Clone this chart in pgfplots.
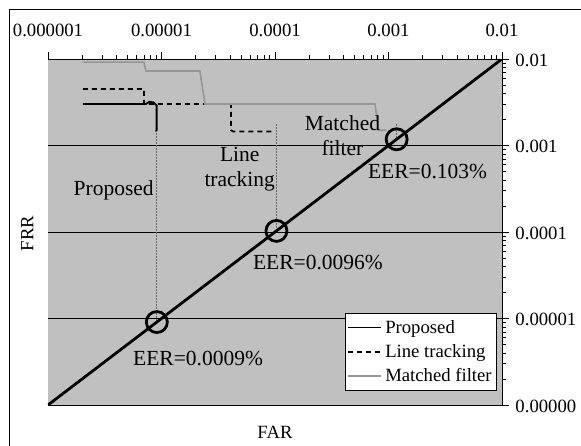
\documentclass[border=0pt]{standalone}
\usepackage{fontspec}
\setmainfont{Liberation Serif}
\usepackage{pgfplots}
\pgfplotsset{compat=1.18}
\newcommand\ff{\fontsize{18.7}{22}\selectfont}
\newcommand\fa{\fontsize{21.5}{25}\selectfont}
\definecolor{plotbg}{RGB}{192,192,192}
\definecolor{mfgray}{RGB}{150,150,150}
\begin{document}
\begin{tikzpicture}[font=\ff]
\path[use as bounding box] (-48pt,-40pt) rectangle (533pt,405pt);
\draw[line width=0.9pt] (-38.5pt,-60pt) rectangle (560pt,396pt);
\begin{axis}[
  at={(0pt,0pt)}, anchor=south west,
  scale only axis, width=454pt, height=346pt,
  xmode=log, ymode=log,
  xmin=1e-6, xmax=1e-2, ymin=1e-6, ymax=1e-2,
  axis x line*=top, axis y line*=right,
  axis line style={line width=0.8pt, -},
  axis background/.style={fill=plotbg},
  tick align=outside,
  major tick length=7pt, minor tick length=4pt,
  every tick/.style={black, line width=0.6pt},
  xtick={1e-6,1e-5,1e-4,1e-3,1e-2},
  xticklabels={0.000001,0.00001,0.0001,0.001,0.01},
  ytick={1e-6,1e-5,1e-4,1e-3,1e-2},
  yticklabels={0.00000,0.00001,0.0001,0.001,0.01},
  xticklabel style={font=\ff, anchor=base, yshift=16pt},
  yticklabel style={font=\ff, anchor=west, xshift=3pt, yshift=-1pt},
  ymajorgrids, major grid style={black, line width=0.6pt},
  xlabel={FAR}, ylabel={FRR},
  xlabel style={font=\ff, at={(axis description cs:0.5,-0.0954)}, anchor=base},
  ylabel style={font=\ff, at={(axis description cs:-0.0324,0.496)}, anchor=base, rotate=0},
  legend style={font=\ff, at={(0.989,0.266)}, anchor=north east, draw=black, fill=white, line width=0.6pt, row sep=0pt, inner sep=2pt,
    nodes={text height=14.6pt, text depth=2.9pt, inner ysep=3.4pt, inner xsep=3pt}},
  legend cell align=left,
  legend image code/.code={\draw[#1] (0pt,0pt) -- (33pt,0pt);},
]
\addplot[black, line width=1.8pt] coordinates {
 (2.03e-6,3.02e-3) (7.3e-6,3.02e-3) (7.8e-6,3.2e-3) (8.5e-6,3.15e-3) (9.06e-6,2.9e-3) (9.06e-6,1.5e-3) (8.9e-6,1.45e-3)};
\addlegendentry{Proposed}
\addplot[black, line width=1.8pt, dash pattern=on 5pt off 4pt] coordinates {
 (2.03e-6,4.5e-3) (7.0e-6,4.5e-3) (7.0e-6,3.02e-3) (4.1e-5,3.02e-3) (4.1e-5,1.5e-3) (4.3e-5,1.45e-3) (9.4e-5,1.45e-3)};
\addlegendentry{Line tracking}
\addplot[mfgray, line width=1.6pt] coordinates {
 (2.03e-6,9.2e-3) (7.0e-6,9.2e-3) (7.3e-6,7.26e-3) (2.18e-5,7.26e-3) (2.25e-5,5.5e-3) (2.3e-5,4.6e-3) (2.42e-5,3.02e-3) (7.6e-4,3.02e-3) (8.2e-4,1.5e-3) (9.6e-4,1.5e-3)};
\addlegendentry{Matched filter}
\addplot[forget plot, black!60, densely dotted, line width=0.5pt] coordinates {(9.06e-6,9.1e-6) (9.06e-6,1.47e-3)};
\addplot[forget plot, black!60, densely dotted, line width=0.5pt] coordinates {(1.03e-4,1.03e-4) (1.03e-4,1.82e-3)};
\addplot[forget plot, black!60, densely dotted, line width=0.5pt] coordinates {(1.18e-3,1.18e-3) (1.18e-3,1.82e-3)};
\addplot[forget plot, black, line width=2.8pt] coordinates {(1e-6,1e-6) (1e-2,1e-2)};
\addplot[forget plot, only marks, mark=o, mark size=10.5pt, mark options={line width=2.8pt, black}] coordinates {
 (9.1e-6,9.1e-6) (1.03e-4,1.03e-4) (1.18e-3,1.18e-3)};
\node[font=\fa, anchor=base] at (axis cs:3.79e-6,2.63e-4) {Proposed};
\node[font=\fa, anchor=base] at (axis cs:4.89e-5,6.50e-4) {Line};
\node[font=\fa, anchor=base] at (axis cs:4.89e-5,3.37e-4) {tracking};
\node[font=\fa, anchor=base] at (axis cs:3.93e-4,1.51e-3) {Matched};
\node[font=\fa, anchor=base] at (axis cs:3.93e-4,7.76e-4) {filter};
\node[font=\fa, anchor=base] at (axis cs:2.21e-3,4.18e-4) {EER=0.103\%};
\node[font=\fa, anchor=base] at (axis cs:2.39e-4,3.64e-5) {EER=0.0096\%};
\node[font=\fa, anchor=base] at (axis cs:2.10e-5,2.90e-6) {EER=0.0009\%};
\end{axis}
\end{tikzpicture}
\end{document}
